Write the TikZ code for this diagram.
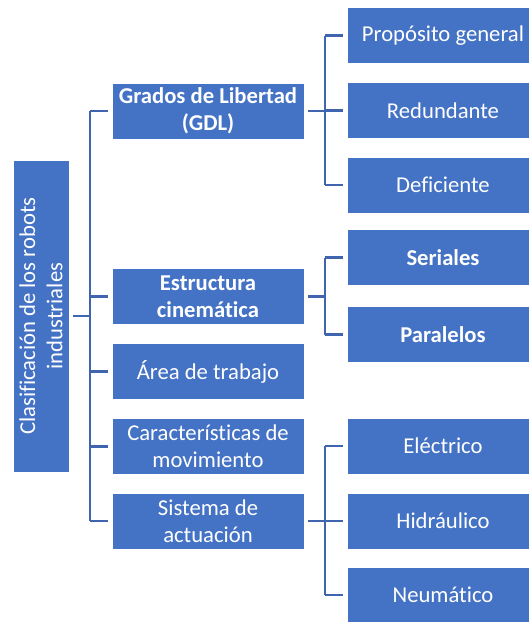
\documentclass[tikz,border=0pt]{standalone}
\usepackage{fontspec}
\setmainfont[Ligatures=NoCommon]{Carlito}
\definecolor{boxblue}{HTML}{4472C4}
\definecolor{lineblue}{HTML}{3F65B0}
\tikzset{
  box/.style={fill=boxblue, draw=white, line width=0.6pt, text=white, align=center,
    minimum width=144pt, minimum height=42pt, inner sep=0pt,
    font=\fontsize{17}{20.5}\selectfont},
  bbox/.style={box, font=\fontsize{17}{20.5}\selectfont\bfseries},
  conn/.style={draw=lineblue, line width=1.6pt},
}
\begin{document}
\begin{tikzpicture}[x=0.75pt,y=-0.75pt]
\useasboundingbox (0,0) rectangle (529,622);
% root
\node[box, rotate=90, minimum width=234pt, minimum height=42pt] (root) at (41,316)
  {Clasificación de los robots\\industriales};
% level 1
\node[bbox] (gdl) at (208,111) {Grados de Libertad\\(GDL)};
\node[bbox] (est) at (208,296.5) {Estructura\\cinemática};
\node[box] (area) at (208,371.5) {Área de trabajo};
\node[box] (car) at (208,446.5) {Características de\\movimiento};
\node[box] (sis) at (208,521) {Sistema de\\actuación};
% level 2
\node[box] (prop) at (443,35.5) {Propósito general};
\node[box] (red) at (443,110.5) {Redundante};
\node[box] (def) at (443,185) {Deficiente};
\node[bbox] (ser) at (443,257.5) {Seriales};
\node[bbox] (par) at (443,334.5) {Paralelos};
\node[box] (ele) at (443,446) {Eléctrico};
\node[box] (hid) at (443,521) {Hidráulico};
\node[box] (neu) at (443,595) {Neumático};
% trunk
\coordinate (t) at (90,316);
\coordinate (b) at (325,0);
\draw[conn, shorten <=3pt] (root.south) -- (root.south -| t);
\draw[conn] (gdl.west -| t) -- (sis.west -| t);
\foreach \n in {gdl,est,area,car,sis}
  \draw[conn, shorten >=3pt] (\n.west -| t) -- (\n.west);
% brackets
\draw[conn, shorten <=3pt] (gdl.east) -- (gdl.east -| b);
\draw[conn] (prop.west -| b) -- (def.west -| b);
\foreach \n in {prop,red,def}
  \draw[conn, shorten >=3pt] (\n.west -| b) -- (\n.west);
\draw[conn, shorten <=3pt] (est.east) -- (est.east -| b);
\draw[conn] (ser.west -| b) -- (par.west -| b);
\foreach \n in {ser,par}
  \draw[conn, shorten >=3pt] (\n.west -| b) -- (\n.west);
\draw[conn, shorten <=3pt] (sis.east) -- (sis.east -| b);
\draw[conn] (ele.west -| b) -- (neu.west -| b);
\foreach \n in {ele,hid,neu}
  \draw[conn, shorten >=3pt] (\n.west -| b) -- (\n.west);
\end{tikzpicture}
\end{document}
